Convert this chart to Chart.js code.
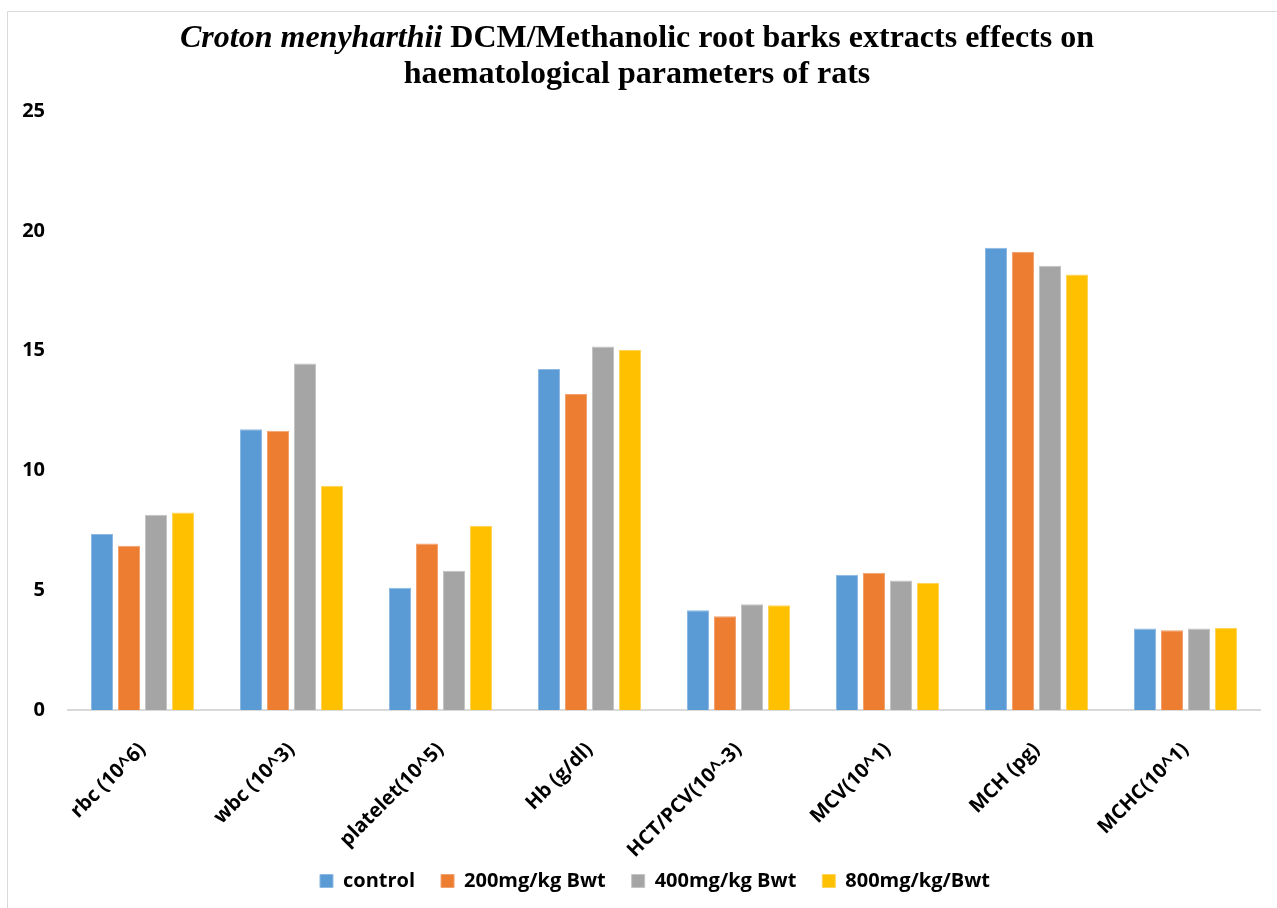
<!DOCTYPE html>
<html>
<head>
<meta charset="utf-8">
<title>Croton menyharthii haematological parameters</title>
<script src="https://cdn.jsdelivr.net/npm/chart.js@4/dist/chart.umd.min.js"></script>
<style>
  html, body { margin: 0; padding: 0; background: #ffffff; }
  #wrap { width: 1277px; height: 908px; position: relative; }
</style>
</head>
<body>
<div id="wrap"><canvas id="chart" width="1277" height="908"></canvas></div>
<script>
// Haematological parameters per treatment group
const categories = ['rbc (10^6)', 'wbc (10^3)', 'platelet(10^5)', 'Hb (g/dl)', 'HCT/PCV(10^-3)', 'MCV(10^1)', 'MCH (pg)', 'MCHC(10^1)'];
const seriesNames = ['control', '200mg/kg Bwt', '400mg/kg Bwt', '800mg/kg/Bwt'];
const control = [7.35, 11.72, 5.10, 14.23, 4.16, 5.64, 19.29, 3.40];
const dose200 = [6.86, 11.65, 6.95, 13.19, 3.91, 5.73, 19.11, 3.33];
const dose400 = [8.15, 14.46, 5.81, 15.17, 4.41, 5.40, 18.54, 3.40];
const dose800 = [8.24, 9.36, 7.68, 15.02, 4.37, 5.30, 18.18, 3.42];
const yTicks = [0, 5, 10, 15, 20, 25];

const fills = ['#5B9BD5', '#ED7D31', '#A5A5A5', '#FFC000'];
const edges = ['#8DB9E2', '#F2A26F', '#C4C4C4', '#FFD45A'];
const uiFont = '"Open Sans", "DejaVu Sans", sans-serif';
const titleFont = '"Liberation Serif", "Times New Roman", serif';

// Frame, legend offset and two-line title with an italic species name
const framePlugin = {
  id: 'frameAndTitle',
  afterLayout(chart) {
    // the legend row sits slightly right of the canvas centre
    if (chart.legend) {
      chart.legend.left += 25;
      chart.legend.right += 25;
    }
    // let the long rotated category labels run down towards the legend
    const xs = chart.scales.x;
    if (xs) {
      xs.bottom = chart.height;
    }
  },
  beforeDraw(chart) {
    const ctx = chart.ctx;
    ctx.save();
    ctx.fillStyle = '#ffffff';
    ctx.fillRect(0, 0, chart.width, chart.height);
    ctx.strokeStyle = '#D9D9D9';
    ctx.lineWidth = 1;
    ctx.beginPath();
    ctx.moveTo(7.5, chart.height);
    ctx.lineTo(7.5, 11.5);
    ctx.lineTo(chart.width, 11.5);
    ctx.stroke();
    ctx.restore();
  },
  afterDraw(chart) {
    const ctx = chart.ctx;
    const cx = 637;
    const size = 32;
    ctx.save();
    ctx.fillStyle = '#000000';
    ctx.textBaseline = 'alphabetic';
    ctx.textAlign = 'left';
    const italicPart = 'Croton menyharthii';
    const restPart = ' DCM/Methanolic root barks extracts effects on';
    ctx.font = 'italic bold ' + size + 'px ' + titleFont;
    const w1 = ctx.measureText(italicPart).width;
    ctx.font = 'bold ' + size + 'px ' + titleFont;
    const w2 = ctx.measureText(restPart).width;
    const x = cx - (w1 + w2) / 2;
    ctx.font = 'italic bold ' + size + 'px ' + titleFont;
    ctx.fillText(italicPart, x, 47);
    ctx.font = 'bold ' + size + 'px ' + titleFont;
    ctx.fillText(restPart, x + w1, 47);
    ctx.textAlign = 'center';
    ctx.fillText('haematological parameters of rats', cx, 83);
    ctx.restore();
  }
};

const datasets = [control, dose200, dose400, dose800].map((values, i) => ({
  label: seriesNames[i],
  data: values,
  backgroundColor: fills[i],
  borderColor: edges[i],
  borderWidth: 1,
  categoryPercentage: 0.725,
  barPercentage: 0.815
}));

new Chart(document.getElementById('chart'), {
  type: 'bar',
  data: { labels: categories, datasets },
  options: {
    responsive: false,
    devicePixelRatio: 1,
    animation: false,
    layout: { padding: { top: 111, right: 17, left: 0, bottom: 7 } },
    plugins: {
      title: { display: false },
      tooltip: { enabled: false },
      legend: {
        position: 'bottom',
        labels: {
          color: '#000000',
          font: { family: uiFont, size: 20, weight: 'bold' },
          boxWidth: 13,
          boxHeight: 13,
          padding: 26
        }
      }
    },
    scales: {
      y: {
        min: 0,
        max: 25,
        afterBuildTicks(scale) { scale.ticks = yTicks.map(v => ({ value: v })); },
        afterFit(scale) { scale.width = 68; },
        grid: { display: false, drawTicks: false },
        border: { display: false },
        ticks: {
          color: '#000000',
          padding: 23,
          font: { family: uiFont, size: 20, weight: 'bold' }
        }
      },
      x: {
        afterFit(scale) { scale.height = 135; },
        grid: { display: false, drawTicks: false },
        border: { display: true, color: '#D9D9D9', width: 2 },
        ticks: {
          color: '#000000',
          minRotation: 45,
          maxRotation: 45,
          padding: 28,
          font: { family: uiFont, size: 20, weight: 'bold' }
        }
      }
    }
  },
  plugins: [framePlugin]
});
</script>
</body>
</html>
